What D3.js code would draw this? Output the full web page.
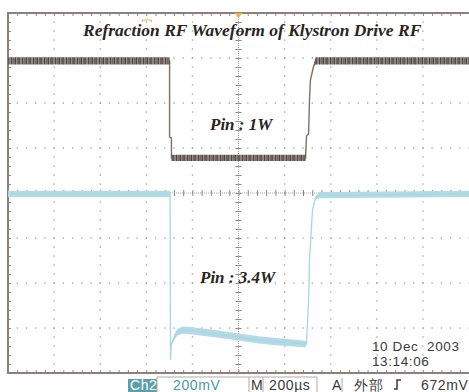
<!DOCTYPE html>
<html>
<head>
<meta charset="utf-8">
<script src="https://cdn.jsdelivr.net/npm/d3@7"></script>
<style>
  body { margin: 0; background: #fff; }
  svg { display: block; }
</style>
</head>
<body>
<script>
// scope settings: 200 us/div horizontally, 200 mV/div vertically, 10 x 8 divisions
var timeDomain = [-1000, 1000];      // us
var voltDomain = [-800, 800];        // mV

// Ch1 (grey trace)
var ch1Time  = [-1000, -299, -299, -291, -291, 291, 295, 304, 308, 312, 325, 334, 1000];
var ch1Level = [587, 587, 249, 244, 156, 156, 253, 262, 413, 502, 560, 587, 587];
var ch1Spread = [16, 16, 0, 0, 14, 14, 0, 0, 0, 0, 0, 16, 16];

// Ch2 (blue trace)
var ch2Time  = [-1000, -297, -295, -292, -278, -265, -243, -200, -87, 0, 87, 174, 291, 295, 304, 308, 321, 334, 351, 1000];
var ch2Level = [-4, -4, -742, -676, -640, -618, -609, -613, -627, -640, -653, -662, -671, -671, -476, -298, -76, -22, -9, -4];
var ch2Spread = [14, 14, 0, 6, 12, 15, 16, 16, 16, 16, 16, 16, 14, 0, 0, 0, 0, 8, 14, 14];

// text on the screen
var title = "Refraction RF Waveform of Klystron Drive RF";
var ch1Label = "Pin : 1W";
var ch2Label = "Pin : 3.4W";
var dateLines = ["10 Dec\u00a0 2003", "13:14:06"];
var statusItems = ["Ch2", "200mV", "M", "200\u00b5s", "A", "\u5916\u90e8", "672mV"];

var width = 469, height = 392;
var plotLeft = 8, plotRight = 469, plotTop = 13, plotBottom = 373;

var svg = d3.select("body").append("svg")
    .attr("width", width)
    .attr("height", height);

// irregular vertical striping for the noisy grey trace
var pat = svg.append("defs").append("pattern")
    .attr("id", "noise").attr("patternUnits", "userSpaceOnUse")
    .attr("width", 11).attr("height", 20);
pat.append("rect").attr("width", 11).attr("height", 20).attr("fill", "#9b8f89");
[[0, 1.2, "#4f4440"], [2.2, 0.8, "#6d615b"], [3.6, 1.4, "#4f4440"], [6, 0.7, "#5e524d"], [7.4, 1.3, "#4a403c"], [9.6, 0.6, "#7a6e68"]]
    .forEach(function(s) {
        pat.append("rect").attr("x", s[0]).attr("width", s[1]).attr("height", 20).attr("fill", s[2]);
    });

var x = d3.scaleLinear().domain(timeDomain).range([plotLeft, plotRight]);
var y = d3.scaleLinear().domain(voltDomain).range([plotBottom, plotTop]);

var majorX = d3.range(-1000, 1001, 200),
    minorX = d3.range(-1000, 1001, 40),
    majorY = d3.range(-800, 801, 200),
    minorY = d3.range(-800, 801, 40);

var grid = svg.append("g");
var dotColor = "#a39d98";

// dotted graticule: dots at every minor step along each major line
majorX.forEach(function(t) {
    if (t === 0 || t === -1000 || t === 1000) return;
    grid.selectAll(null).data(minorY).enter().append("rect")
        .attr("x", x(t) - 0.6).attr("y", function(d) { return y(d) - 0.6; })
        .attr("width", 1.3).attr("height", 1.3).attr("fill", dotColor);
});
majorY.forEach(function(v) {
    if (v === 0 || v === -800 || v === 800) return;
    grid.selectAll(null).data(minorX).enter().append("rect")
        .attr("x", function(d) { return x(d) - 0.6; }).attr("y", y(v) - 0.6)
        .attr("width", 1.3).attr("height", 1.3).attr("fill", dotColor);
});

// centre cross lines with minor ticks
grid.append("line")
    .attr("x1", x(0)).attr("x2", x(0)).attr("y1", plotTop).attr("y2", plotBottom)
    .attr("stroke", "#a8a29d").attr("stroke-width", 1).attr("stroke-dasharray", "1,1");
grid.append("line")
    .attr("x1", plotLeft).attr("x2", plotRight).attr("y1", y(0)).attr("y2", y(0))
    .attr("stroke", "#a8a29d").attr("stroke-width", 1).attr("stroke-dasharray", "1,1");

function noDomain(g) { g.select(".domain").remove(); }

grid.append("g")
    .attr("transform", "translate(0," + y(0) + ")")
    .call(d3.axisBottom(x).tickValues(minorX).tickSize(3).tickFormat(""))
    .call(noDomain);
grid.append("g")
    .attr("transform", "translate(0," + y(0) + ")")
    .call(d3.axisTop(x).tickValues(minorX).tickSize(3).tickFormat(""))
    .call(noDomain);
grid.append("g")
    .attr("transform", "translate(" + x(0) + ",0)")
    .call(d3.axisLeft(y).tickValues(minorY).tickSize(3).tickFormat(""))
    .call(noDomain);
grid.append("g")
    .attr("transform", "translate(" + x(0) + ",0)")
    .call(d3.axisRight(y).tickValues(minorY).tickSize(3).tickFormat(""))
    .call(noDomain);

// ticks along the frame
grid.append("g")
    .attr("transform", "translate(0," + plotTop + ")")
    .call(d3.axisBottom(x).tickValues(minorX).tickSize(3).tickFormat(""))
    .call(noDomain);
grid.append("g")
    .attr("transform", "translate(0," + plotBottom + ")")
    .call(d3.axisTop(x).tickValues(minorX).tickSize(3).tickFormat(""))
    .call(noDomain);
grid.append("g")
    .attr("transform", "translate(" + plotLeft + ",0)")
    .call(d3.axisRight(y).tickValues(minorY).tickSize(3).tickFormat(""))
    .call(noDomain);

grid.selectAll(".tick line").attr("stroke", "#8f8680");

// frame
svg.append("path")
    .attr("d", "M" + plotRight + "," + plotTop + "H" + plotLeft + "V" + plotBottom + "H" + plotRight)
    .attr("fill", "none").attr("stroke", "#8d8079").attr("stroke-width", 2);

// traces
function pts(times, levels, spread) {
    return times.map(function(t, i) { return { t: t, v: levels[i], s: spread[i] }; });
}
var ch1 = pts(ch1Time, ch1Level, ch1Spread);
var ch2 = pts(ch2Time, ch2Level, ch2Spread);

var band = d3.area()
    .x(function(d) { return x(d.t); })
    .y0(function(d) { return y(d.v - d.s); })
    .y1(function(d) { return y(d.v + d.s); });
var line = d3.line()
    .x(function(d) { return x(d.t); })
    .y(function(d) { return y(d.v); });

svg.append("path").datum(ch2).attr("d", band).attr("fill", "#b3dbe5");
svg.append("path").datum(ch2).attr("d", line)
    .attr("fill", "none").attr("stroke", "#a9d6e2").attr("stroke-width", 1.3);

svg.append("path").datum(ch1).attr("d", line)
    .attr("fill", "none").attr("stroke", "#7d716b").attr("stroke-width", 1.4);
svg.append("path").datum(ch1).attr("d", band).attr("fill", "url(#noise)");

// markers
svg.append("path")
    .attr("d", "M" + (x(0) - 4) + "," + plotTop + "L" + (x(0) + 4) + "," + plotTop + "L" + x(0) + "," + (plotTop + 5) + "Z")
    .attr("fill", "#f2b33d");
svg.append("path")
    .attr("d", "M" + (x(-400) - 4) + "," + 22.5 + "V20H" + (x(-400) + 5) + "V22.5")
    .attr("fill", "none").attr("stroke", "#f2b33d").attr("stroke-width", 1);

// labels
function serifLabel(sel, size) {
    return sel.style("font-family", "'Liberation Serif', serif")
        .style("font-weight", "bold").style("font-style", "italic")
        .style("font-size", size).attr("fill", "#2b2421");
}
serifLabel(svg.append("text").attr("x", 83).attr("y", 36), "17.5px").text(title);
serifLabel(svg.append("text").attr("x", 210).attr("y", 130), "17px").text(ch1Label);
serifLabel(svg.append("text").attr("x", 200).attr("y", 283), "17px").text(ch2Label);

svg.selectAll(".date").data(dateLines).enter().append("text")
    .attr("class", "date")
    .attr("x", 372).attr("y", function(d, i) { return 351 + i * 15; })
    .style("font-family", "'Liberation Sans', sans-serif")
    .style("font-size", "13.5px").style("letter-spacing", "0.6px").attr("fill", "#3a3a3a")
    .text(function(d) { return d; });

// status bar
var bar = svg.append("g").style("font-family", "'Liberation Sans', sans-serif").style("font-size", "14px");
bar.append("rect").attr("x", 128).attr("y", 379).attr("width", 29).attr("height", 13).attr("fill", "#5b9fac");
bar.append("path")
    .attr("d", "M157,392V377H317V392M249,377V392M263,377V392M342,378V392")
    .attr("fill", "none").attr("stroke", "#b0aaa5").attr("stroke-width", 1);

var statusPos = [
    { x: 130, fill: "#fff" },
    { x: 173, fill: "#4b98a8" },
    { x: 251, fill: "#3a3a3a" },
    { x: 269, fill: "#3a3a3a" },
    { x: 332, fill: "#3a3a3a" },
    { x: 354, fill: "#3a3a3a" },
    { x: 421, fill: "#3a3a3a" }
];
bar.selectAll("text").data(statusItems).enter().append("text")
    .attr("x", function(d, i) { return statusPos[i].x; })
    .attr("y", 390)
    .attr("fill", function(d, i) { return statusPos[i].fill; })
    .style("letter-spacing", "0.6px")
    .text(function(d) { return d; });
// slope symbol
bar.append("path")
    .attr("d", "M394,389H397V380H401")
    .attr("fill", "none").attr("stroke", "#3a3a3a").attr("stroke-width", 1.5);
</script>
</body>
</html>
